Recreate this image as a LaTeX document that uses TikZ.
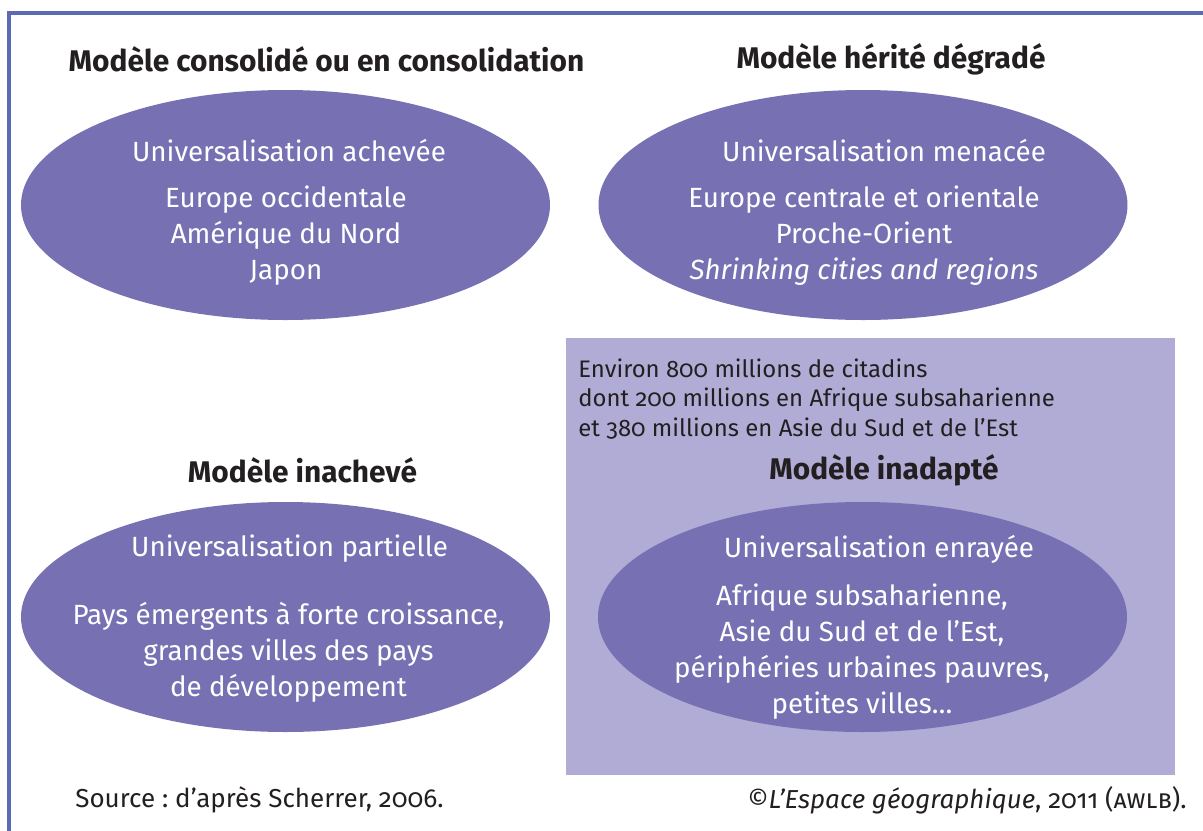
\documentclass[tikz,border=0pt]{standalone}
\usepackage{fontspec}
\setmainfont{Fira Sans}[Numbers=OldStyle]
\frenchspacing
\usetikzlibrary{shapes.geometric,calc}
\definecolor{myviolet}{RGB}{119,113,179}
\definecolor{mylilac}{RGB}{176,172,214}
\definecolor{myframe}{RGB}{92,105,180}
\definecolor{myblack}{RGB}{35,31,32}

\tikzset{
    blob/.style={ellipse, fill=myviolet, minimum width=10.58cm, minimum height=4.6cm, inner sep=0pt},
    modeltitle/.style={anchor=center, color=myblack, font=\fontsize{17}{20}\selectfont\bfseries},
    blobhead/.style={anchor=center, color=white, font=\fontsize{15.8}{20.5}\selectfont},
    blobtext/.style={anchor=center, align=center, color=white, font=\fontsize{15.8}{20.5}\selectfont},
    smalltext/.style={color=myblack, inner sep=0pt, font=\fontsize{13.6}{16.6}\selectfont},
    sourcetext/.style={color=myblack, inner sep=0pt, font=\fontsize{14.8}{17}\selectfont}
}

\begin{document}
\begin{tikzpicture}
    \useasboundingbox (0, 0) rectangle (24.06, -16.62);
    % frame
    \draw[myframe, line width=2.2pt] (0.18, -16.62) -- (0.18, -0.26) -- (24.06, -0.26);
    % shaded area of the last model
    \fill[mylilac] (11.32, -6.76) rectangle (23.5, -15.5);
    % Titles
    \node[modeltitle] (T1) at (6.53, -1.18) {Modèle consolidé ou en consolidation};
    \node[modeltitle] (T2) at (17.82, -1.18) {Modèle hérité dégradé};
    \node[modeltitle] (T3) at (6.05, -9.4) {Modèle inachevé};
    \node[modeltitle] (T4) at (17.68, -9.4) {Modèle inadapté};
    % ellipses
    \node[blob] (E1) at (5.71, -4.1) {};
    \node[blob] (E2) at (17.26, -4.1) {};
    \node[blob] (E3) at (5.71, -12.34) {};
    \node[blob] (E4) at (17.25, -12.34) {};
    % texts in the ellipses
    \node[blobhead] (H1) at ($(E1) + (0.07, 1.08)$) {Universalisation achevée};
    \node[blobtext] (L1) at ($(E1) + (0.01, -0.62)$) {Europe occidentale\\Amérique du Nord\\Japon};
    \node[blobhead] (H2) at ($(E2) + (0.42, 1.08)$) {Universalisation menacée};
    \node[blobtext] (L2) at ($(E2) + (0.02, -0.62)$) {Europe centrale et orientale\\Proche-Orient\\\textit{Shrinking cities and regions}};
    \node[blobhead] (H3) at ($(E3) + (0.08, 1.36)$) {Universalisation partielle};
    \node[blobtext] (L3) at ($(E3) + (0.06, -0.7)$) {Pays émergents à forte croissance,\\grandes villes des pays\\de développement};
    \node[blobhead] (H4) at ($(E4) + (0.33, 1.36)$) {Universalisation enrayée};
    \node[blobtext] (L4) at ($(E4) + (-0.01, -0.7)$) {Afrique subsaharienne,\\Asie du Sud et de l’Est,\\périphéries urbaines pauvres,\\petites villes…};
    % figures
    \node[smalltext, anchor=west, align=left] (N) at (11.56, -7.98) {Environ 800 millions de citadins\\dont 200 millions en Afrique subsaharienne\\et 380 millions en Asie du Sud et de l’Est};
    % sources
    \node[sourcetext, anchor=west] (S) at (1.5, -16.0) {Source : d’après Scherrer, 2006.};
    \node[sourcetext, anchor=east] (C) at (23.74, -16.0) {©\textit{L’Espace géographique}, 2011 (\textsc{awlb}).};
\end{tikzpicture}
\end{document}
